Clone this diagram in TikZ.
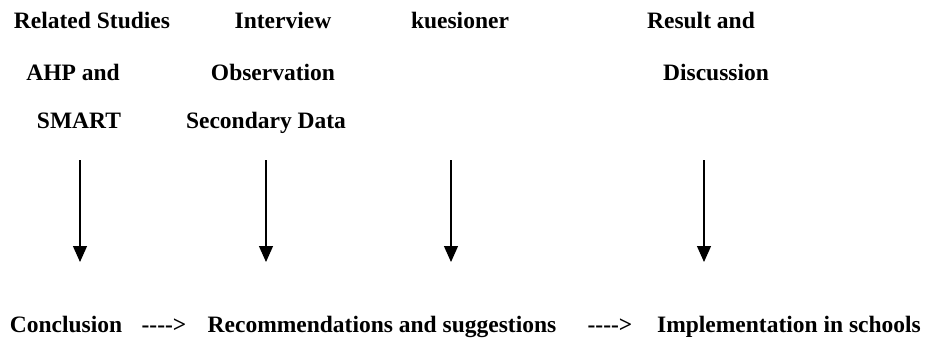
\documentclass[tikz,border=0pt]{standalone}
\usepackage{fontspec}
\setmainfont{Liberation Serif}
\usetikzlibrary{arrows.meta}
\tikzset{txt/.style={font=\fontsize{23.5}{28}\selectfont\bfseries,inner sep=0pt,anchor=base},
flow/.style={line width=1.2pt,-{Triangle[width=14pt,length=16pt]}}}

\begin{document}
\begin{tikzpicture}[x=1pt,y=-1pt]
\useasboundingbox (0,0) rectangle (927,338);
% top row
\node[txt] (rel) at (92,28) {Related Studies};
\node[txt] (ahp) at (73,80) {AHP and};
\node[txt] (smart) at (79,128) {SMART};
\node[txt] (intv) at (283,28) {Interview};
\node[txt] (obs) at (273,80) {Observation};
\node[txt] (sec) at (266,128) {Secondary Data};
\node[txt] (kues) at (460,28) {kuesioner};
\node[txt] (res) at (701,28) {Result and};
\node[txt] (disc) at (716,80) {Discussion};
% arrows
\coordinate (s1) at (80,160); \coordinate (e1) at (80,262);
\coordinate (s2) at (266,160); \coordinate (e2) at (266,262);
\coordinate (s3) at (451,160); \coordinate (e3) at (451,262);
\coordinate (s4) at (704,160); \coordinate (e4) at (704,262);
\path[flow] (s1) edge (e1);
\path[flow] (s2) edge (e2);
\path[flow] (s3) edge (e3);
\path[flow] (s4) edge (e4);
% bottom row
\node[txt] (conc) at (66,332) {Conclusion};
\node[txt] (d1) at (164,332) {-{}-{}-{}-{}>};
\node[txt] (rec) at (382,332) {Recommendations and suggestions};
\node[txt] (d2) at (610,332) {-{}-{}-{}-{}>};
\node[txt] (impl) at (789,332) {Implementation in schools};
\end{tikzpicture}
\end{document}
